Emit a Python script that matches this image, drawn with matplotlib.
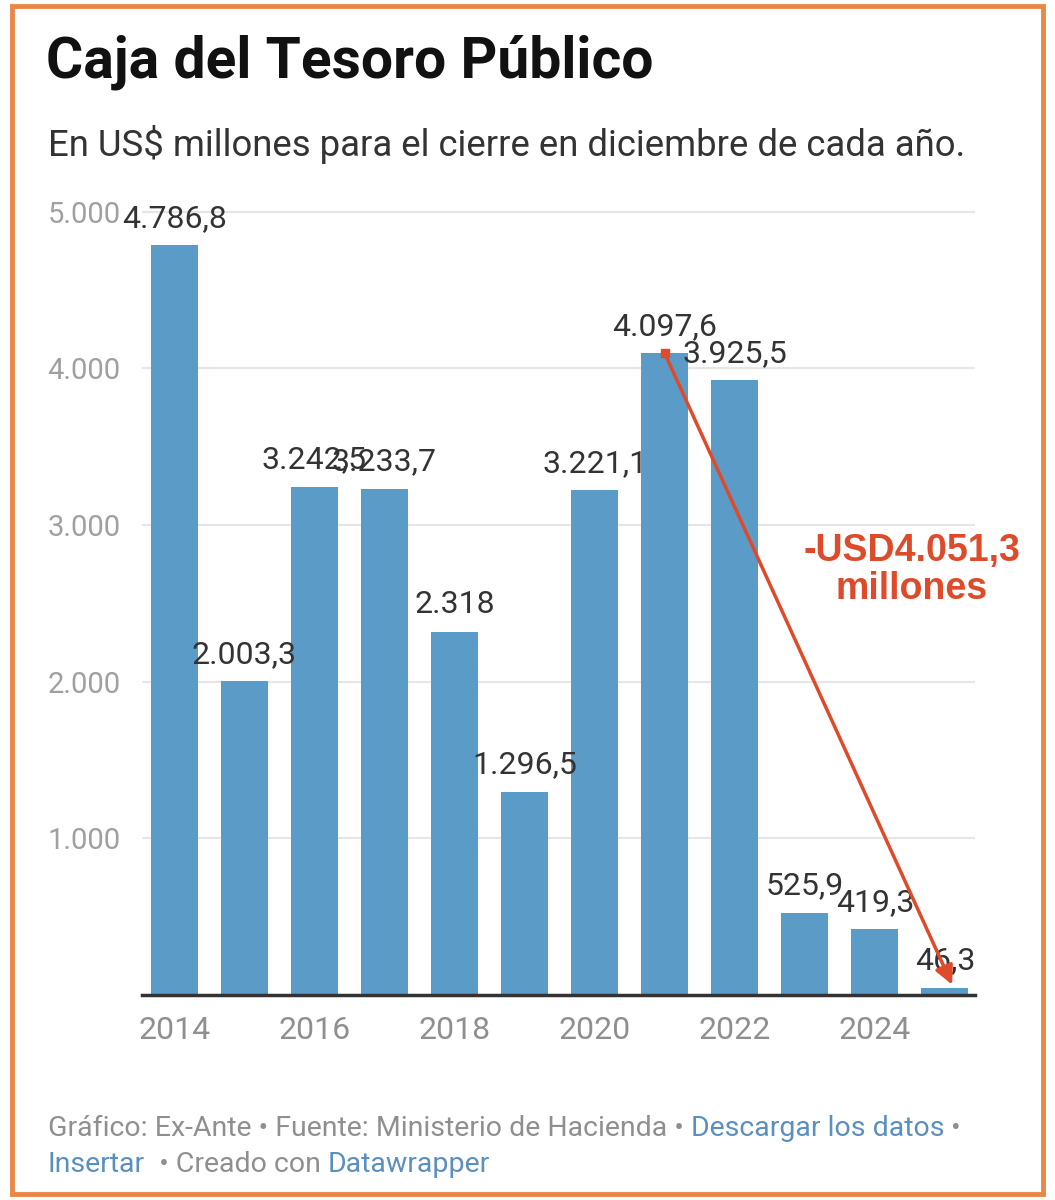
import matplotlib.pyplot as plt
from matplotlib.patches import Rectangle

years = [2014, 2015, 2016, 2017, 2018, 2019, 2020, 2021, 2022, 2023, 2024, 2025]
caja = [4786.8, 2003.3, 3242.5, 3233.7, 2318.0, 1296.5, 3221.1, 4097.6, 3925.5, 525.9, 419.3, 46.3]
labels = ["4.786,8", "2.003,3", "3.242,5", "3.233,7", "2.318", "1.296,5",
          "3.221,1", "4.097,6", "3.925,5", "525,9", "419,3", "46,3"]
yticks = [1000, 2000, 3000, 4000, 5000]
ytick_labels = ["1.000", "2.000", "3.000", "4.000", "5.000"]
xticks = [2014, 2016, 2018, 2020, 2022, 2024]

W, H = 1055, 1200
BAR = "#5b9bc8"
GRAY = "#8f8f8f"
LINK = "#5b8fc0"
RED = "#dd4b2b"

plt.rcParams['font.family'] = ['Roboto', 'DejaVu Sans']

fig = plt.figure(figsize=(W / 100, H / 100), dpi=100)

# orange frame around the whole card
fig.patches.append(Rectangle((12 / W, 6 / H), 1031 / W, 1188 / H, transform=fig.transFigure,
                             fill=False, edgecolor="#ea8747", linewidth=3.5))

fig.text(46 / W, 1 - 62 / H, "Caja del Tesoro Público", fontsize=41, fontweight='bold',
         color="#111111", va='center', ha='left')
fig.text(48 / W, 1 - 145 / H, "En US$ millones para el cierre en diciembre de cada año.",
         fontsize=26.3, color="#333333", va='center', ha='left')

ax_l, ax_r = 142, 975
ax_b, ax_t = 995, 199
ax = fig.add_axes([ax_l / W, 1 - ax_b / H, (ax_r - ax_l) / W, (ax_b - ax_t) / H])

ax.bar(years, caja, width=0.67, color=BAR, zorder=2)
ax.set_xlim(2013.54, 2025.43)
ax.set_ylim(0, 5082)

for yr, v, lab in zip(years, caja, labels):
    ax.annotate(lab, (yr, v), xytext=(0, 9), textcoords='offset points',
                ha='center', va='bottom', fontsize=23, color="#333333", zorder=4)

ax.set_yticks(yticks)
ax.set_yticklabels(ytick_labels)
ax.set_xticks(xticks)
ax.set_xticklabels([str(x) for x in xticks])
ax.tick_params(axis='y', length=0, pad=68, labelsize=21, labelcolor="#a0a0a0")
for t in ax.get_yticklabels():
    t.set_horizontalalignment('left')
ax.tick_params(axis='x', length=0, pad=15, labelsize=23, labelcolor=GRAY)
ax.grid(axis='y', color="#e6e6e6", linewidth=1.5, zorder=0)
for s in ['top', 'right', 'left']:
    ax.spines[s].set_visible(False)
ax.spines['bottom'].set_color("#333333")
ax.spines['bottom'].set_linewidth(2.5)
ax.spines['bottom'].set_zorder(3)

# drop annotation from 2021 to 2025
ax.plot([2021], [4097.6], marker='s', markersize=6, color=RED, zorder=5)
ax.annotate("", xy=(2025.12, 50), xytext=(2021, 4097.6),
            arrowprops=dict(arrowstyle='-|>', color=RED, lw=2.5, mutation_scale=28), zorder=5)
ax.text(2024.53, 2714, "-USD4.051,3\nmillones", fontsize=27, fontweight='bold', color=RED,
        ha='center', va='center', linespacing=1.1, family=['Liberation Sans', 'DejaVu Sans'],
        zorder=6)

# footer with link-coloured parts
fig.canvas.draw()
renderer = fig.canvas.get_renderer()


def footer_line(y, parts):
    x = 48
    for txt, col in parts:
        t = fig.text(x / W, 1 - y / H, txt, fontsize=20.5, color=col, va='center', ha='left')
        bb = t.get_window_extent(renderer)
        x += bb.width


footer_line(1128, [("Gráfico: Ex-Ante • Fuente: Ministerio de Hacienda • ", GRAY),
                   ("Descargar los datos", LINK), (" •", GRAY)])
footer_line(1165, [("Insertar", LINK), ("  • Creado con ", GRAY), ("Datawrapper", LINK)])

fig.savefig("out.png", dpi=100)
